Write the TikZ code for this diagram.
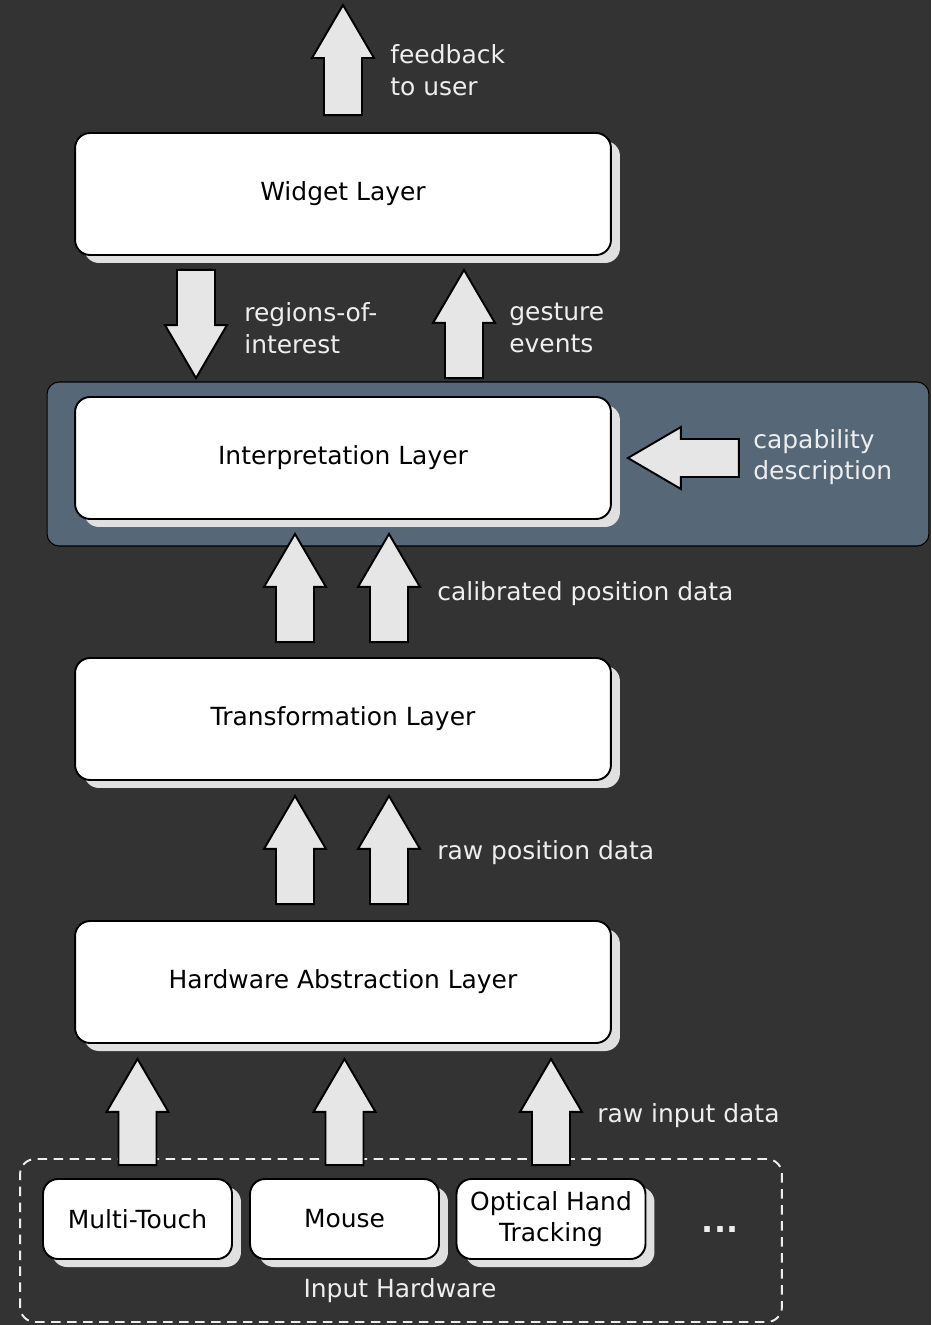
\documentclass[tikz,border=0pt]{standalone}
\usepackage{fontspec}
\setmainfont{DejaVu Sans}
\usetikzlibrary{calc,shadows}

\definecolor{bgdark}{HTML}{333333}
\definecolor{panelblue}{HTML}{566778}
\definecolor{arrowgray}{HTML}{E6E6E6}
\definecolor{shadowgray}{HTML}{E0E0E0}
\definecolor{labelwhite}{HTML}{EEEEEE}

\tikzset{
	layerbox/.style={draw=black, fill=white, line width=1.1pt, rounded corners=0.3cm,
		minimum width=10.72cm, minimum height=2.44cm, text=black, align=center,
		font=\fontsize{14.2}{17.9}\selectfont,
		drop shadow={fill=shadowgray, opacity=1, shadow xshift=0.18cm, shadow yshift=-0.16cm}},
	devbox/.style={layerbox, minimum width=3.78cm, minimum height=1.6cm},
	panel/.style={draw=black, fill=panelblue, line width=0.6pt, rounded corners=0.24cm,
		minimum width=17.64cm, minimum height=3.28cm},
	hwgroup/.style={draw=labelwhite, line width=1.1pt, dash pattern=on 0.19cm off 0.13cm,
		rounded corners=0.3cm, minimum width=15.24cm, minimum height=3.26cm},
	blockarr/.style={draw=black, fill=arrowgray, line width=1.1pt, line join=miter},
	lbl/.style={anchor=west, align=left, text=labelwhite, inner sep=0pt,
		font=\fontsize{14.2}{17.9}\selectfont},
}

% block arrow from #1 (tail) to #2 (tip)
\newcommand\blockarrow[2]{%
	\path ($(#2)!1.06cm!(#1)$) coordinate (hb);
	\draw[blockarr] ($(#1)!0.38cm!90:(#2)$) -- ($(hb)!0.38cm!90:(#2)$) -- ($(hb)!0.62cm!90:(#2)$)
		-- (#2) -- ($(hb)!0.62cm!-90:(#2)$) -- ($(hb)!0.38cm!-90:(#2)$) -- ($(#1)!0.38cm!-90:(#2)$) -- cycle;}

\begin{document}
\begin{tikzpicture}[x=0.02cm, y=-0.02cm]
	
	\useasboundingbox (0,0) rectangle (931,1325);
	\fill [bgdark] (0,0) rectangle (931,1325);
	
	\node [panel] (iface) at (488,464) {};
	
	\node [layerbox] (widget) at (343,194) {Widget Layer};
	\node [layerbox] (interp) at (343,458) {Interpretation Layer};
	\node [layerbox] (trans) at (343,719) {Transformation Layer};
	\node [layerbox] (hal) at (343,982) {Hardware Abstraction Layer};
	
	\node [hwgroup] (hw) at (401,1240.5) {};
	\node [devbox] (touch) at (137.5,1219) {Multi-Touch};
	\node [devbox] (mouse) at (344.5,1219) {Mouse};
	\node [devbox] (optical) at (551,1219) {Optical Hand\\Tracking};
	\node [lbl, anchor=base, font=\fontsize{18}{20}\selectfont\bfseries] (more) at (720,1232) {...};
	\node [lbl, anchor=center] (hwlbl) at (400,1291) {Input Hardware};
	
	\node [lbl] (fblbl) at (390,70) {feedback\\to user};
	\node [lbl] (roilbl) at (244,328) {regions-of-\\interest};
	\node [lbl] (gestlbl) at (509,328) {gesture\\events};
	\node [lbl] (caplbl) at (753,457) {capability\\description};
	\node [lbl] (callbl) at (437,594) {calibrated position data};
	\node [lbl] (rawlbl) at (437,853) {raw position data};
	\node [lbl] (inlbl) at (597,1116) {raw input data};
	
	\coordinate (fb0) at ($(widget.north)+(0,-17)$);
	\coordinate (fb1) at (343,5);
	\coordinate (roi0) at ($(widget.south)+(-147,14)$);
	\coordinate (roi1) at ($(interp.north)+(-147,-18)$);
	\coordinate (ge0) at ($(interp.north)+(121,-18)$);
	\coordinate (ge1) at ($(widget.south)+(121,14)$);
	\coordinate (cap0) at ($(interp.east)+(127,0)$);
	\coordinate (cap1) at ($(interp.east)+(16,0)$);
	
	\blockarrow{fb0}{fb1}
	\blockarrow{roi0}{roi1}
	\blockarrow{ge0}{ge1}
	\blockarrow{cap0}{cap1}
	
	\coordinate (cala0) at ($(trans.north)+(-48,-15)$);
	\coordinate (cala1) at ($(interp.south)+(-48,14)$);
	\coordinate (calb0) at ($(trans.north)+(46,-15)$);
	\coordinate (calb1) at ($(interp.south)+(46,14)$);
	\blockarrow{cala0}{cala1}
	\blockarrow{calb0}{calb1}
	
	\coordinate (rawa0) at ($(hal.north)+(-48,-16)$);
	\coordinate (rawa1) at ($(trans.south)+(-48,15)$);
	\coordinate (rawb0) at ($(hal.north)+(46,-16)$);
	\coordinate (rawb1) at ($(trans.south)+(46,15)$);
	\blockarrow{rawa0}{rawa1}
	\blockarrow{rawb0}{rawb1}
	
	\coordinate (ina0) at ($(touch.north)+(0,-13)$);
	\coordinate (ina1) at ($(touch.north|-hal.south)+(0,15)$);
	\coordinate (inb0) at ($(mouse.north)+(0,-13)$);
	\coordinate (inb1) at ($(mouse.north|-hal.south)+(0,15)$);
	\coordinate (inc0) at ($(optical.north)+(0,-13)$);
	\coordinate (inc1) at ($(optical.north|-hal.south)+(0,15)$);
	\blockarrow{ina0}{ina1}
	\blockarrow{inb0}{inb1}
	\blockarrow{inc0}{inc1}
	
\end{tikzpicture}
\end{document}
